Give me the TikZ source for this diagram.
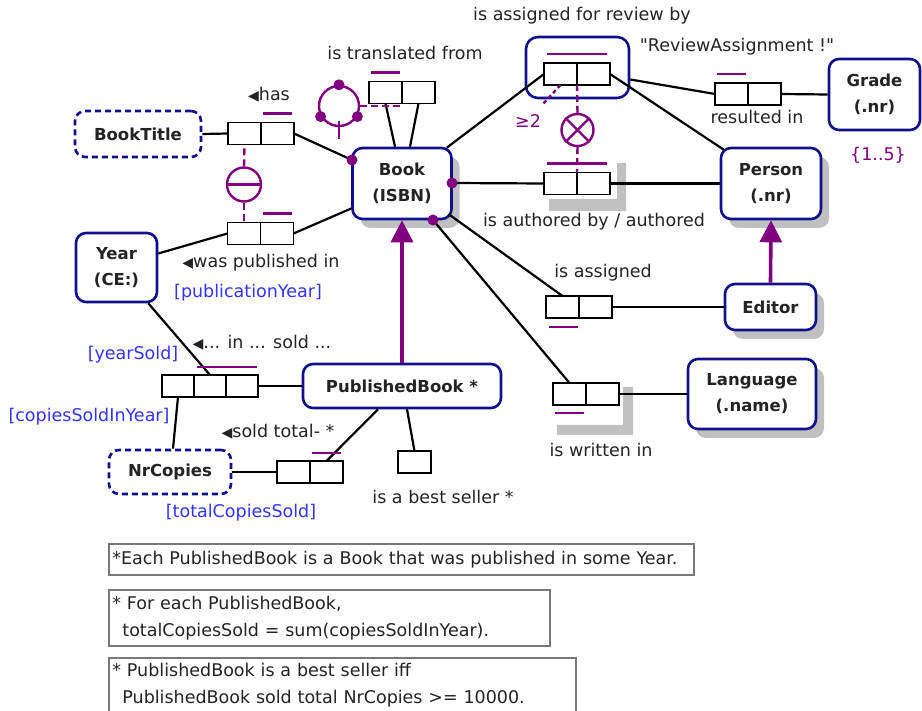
\documentclass[tikz,border=0pt]{standalone}
\usepackage{fontspec}
\setmainfont{DejaVu Sans}[Ligatures=TeXOff]
\usetikzlibrary{arrows.meta,shadows,calc}
\definecolor{navy}{RGB}{16,16,140}
\definecolor{cpurple}{RGB}{128,0,128}
\definecolor{cblue}{RGB}{51,51,255}
\definecolor{shadowgray}{RGB}{192,192,192}
\definecolor{ink}{RGB}{35,35,35}
\definecolor{notegray}{RGB}{120,120,120}
\newcommand{\lt}{{\fontsize{14}{14}\selectfont ◀}}

\begin{document}
\begin{tikzpicture}[x=1pt,y=-1pt,
  font=\fontsize{17.5}{27}\selectfont, text=ink,
  entity/.style={draw=navy, line width=2.6pt, rounded corners=10pt, fill=white, align=center,
    font=\fontsize{16.5}{26}\selectfont\bfseries, inner sep=0pt},
  refmode/.style={entity, dash pattern=on 6pt off 4pt},
  shadowed/.style={drop shadow={shadow xshift=8pt, shadow yshift=-9pt, fill=shadowgray, opacity=1}},
  role/.style={draw=black, line width=1.6pt, fill=white, minimum width=33pt, minimum height=22pt,
    inner sep=0pt, outer sep=0pt},
  conn/.style={draw=black, line width=2.2pt},
  ubar/.style={draw=cpurple, line width=2.4pt},
  cons/.style={draw=cpurple, line width=2.4pt},
  cdash/.style={draw=cpurple, line width=2.4pt, dash pattern=on 7pt off 4pt},
  ccirc/.style={circle, draw=cpurple, line width=2.4pt, fill=white, inner sep=0pt},
  mdot/.style={circle, fill=cpurple, inner sep=0pt, minimum size=11pt},
  subarrow/.style={draw=cpurple, line width=3.6pt, -{Triangle[width=22pt,length=22pt]}},
  lbl/.style={inner sep=0pt},
  rname/.style={text=cblue, inner sep=0pt},
  note/.style={draw=notegray, line width=1.8pt, anchor=north west, align=left, inner xsep=3.5pt,
    inner ysep=3pt, font=\fontsize{17.5}{27}\selectfont}
]
\useasboundingbox (0,0) rectangle (922,711);

% ---------- entity types ----------
\node[refmode, minimum width=126pt, minimum height=46pt] (BookTitle) at (138,134) {BookTitle};
\node[entity, shadowed, minimum width=99pt, minimum height=71pt] (Book) at (402,183.5) {Book\\(ISBN)};
\node[entity, minimum width=81pt, minimum height=69pt] (Year) at (116.5,267.5) {Year\\(CE:)};
\node[entity, minimum width=198pt, minimum height=44pt] (PubBook) at (402,386) {PublishedBook *};
\node[refmode, minimum width=122pt, minimum height=44pt] (NrCopies) at (170,472) {NrCopies};
\node[entity, shadowed, minimum width=100pt, minimum height=71pt] (Person) at (771,183.5) {Person\\(.nr)};
\node[entity, minimum width=91pt, minimum height=71pt] (Grade) at (874.5,94.5) {Grade\\(.nr)};
\node[entity, shadowed, minimum width=91pt, minimum height=46pt] (Editor) at (770.5,307) {Editor};
\node[entity, shadowed, minimum width=128pt, minimum height=70pt] (Language) at (752,394) {Language\\(.name)};

% objectified fact type frame
\node[draw=navy, line width=2.6pt, rounded corners=12pt, minimum width=103pt, minimum height=61pt] (Review) at (577.5,67.5) {};

% shadows of repeated fact types
\fill[shadowgray] (617,163) -- (626,163) -- (626,211) -- (549,211) -- (549,199) -- (617,199) -- cycle;
\fill[shadowgray] (623,387) -- (633,387) -- (633,435) -- (557,435) -- (557,425) -- (623,425) -- cycle;

% ---------- roles ----------
\node[role] (has1) at (244.5,133.5) {};
\node[role] (has2) at (277.5,133.5) {};
\node[role] (tr1) at (385.5,92.5) {};
\node[role] (tr2) at (418.5,92.5) {};
\node[role] (pub1) at (244,233.5) {};
\node[role] (pub2) at (277,233.5) {};
\node[role] (rv1) at (560.5,74) {};
\node[role] (rv2) at (593.5,74) {};
\node[role] (au1) at (560.5,183.5) {};
\node[role] (au2) at (593.5,183.5) {};
\node[role] (rs1) at (731.5,94) {};
\node[role] (rs2) at (764.5,94) {};
\node[role] (as1) at (562.5,307) {};
\node[role] (as2) at (595.5,307) {};
\node[role] (wr1) at (569.5,394) {};
\node[role] (wr2) at (602.5,394) {};
\node[role, minimum width=32pt] (sd1) at (178,386) {};
\node[role, minimum width=32pt] (sd2) at (210,386) {};
\node[role, minimum width=32pt] (sd3) at (242,386) {};
\node[role] (tt1) at (293.5,472) {};
\node[role] (tt2) at (326.5,472) {};
\node[role] (best) at (414.5,462) {};

% mandatory role points on Book
\coordinate (dotHas) at (352,160);
\coordinate (dotAuth) at (452,183);
\coordinate (dotWr) at (433,220);

% ---------- connectors ----------
\draw[conn] (BookTitle.east) -- (has1.west);
\draw[conn] (has2.east) -- (dotHas);
\draw[conn] ($(Year.east)+(0,-14)$) -- (pub1.west);
\draw[conn] (pub2.east) -- ($(Book.west)+(0,25)$);
\draw[conn] (tr1.south) -- ($(Book.north)+(-7,0)$);
\draw[conn] (tr2.south) -- ($(Book.north)+(8,0)$);
\draw[conn] (rv1.west) -- ($(Book.north east)+(-6,1)$);
\draw[conn] (rv2.east) -- ($(Person.north west)+(4,3)$);
\draw[conn] ($(Review.east)+(0,12)$) -- (rs1.west);
\draw[conn] (rs2.east) -- (Grade.west);
\draw[conn] (au1.west) -- (dotAuth);
\draw[conn] (au2.east) -- (Person.west);
\draw[conn] (as1.north) -- ($(Book.south east)+(-4,-6)$);
\draw[conn] (as2.east) -- (Editor.west);
\draw[conn] (wr1.north) -- (dotWr);
\draw[conn] (wr2.east) -- (Language.west);
\draw[conn] ($(Year.south east)+(-10,0)$) -- (sd2.north);
\draw[conn] (sd1.south) -- ($(NrCopies.north)+(3,0)$);
\draw[conn] (sd3.east) -- (PubBook.west);
\draw[conn] (NrCopies.east) -- (tt1.west);
\draw[conn] (tt2.north) -- ($(PubBook.south)+(-24,0)$);
\draw[conn] (best.north) -- ($(PubBook.south)+(5,0)$);

\node[mdot] at (dotHas) {};
\node[mdot] at (dotAuth) {};
\node[mdot] at (dotWr) {};

% ---------- subtyping ----------
\draw[subarrow] (PubBook.north) -- (Book.south);
\draw[subarrow] (Editor.north) -- (Person.south);

% ---------- uniqueness constraints ----------
\draw[ubar] ($(has2.north west)+(2,-9)$) -- ($(has2.north east)+(-2,-9)$);
\draw[ubar] ($(tr1.north west)+(2,-9)$) -- ($(tr1.north east)+(-2,-9)$);
\draw[ubar] ($(pub2.north west)+(2,-9)$) -- ($(pub2.north east)+(-2,-9)$);
\draw[ubar] ($(rv1.north west)+(3,-9)$) -- ($(rv2.north east)+(-3,-9)$);
\draw[ubar] ($(au1.north west)+(3,-9)$) -- ($(au2.north east)+(-3,-9)$);
\draw[ubar] ($(rs1.north west)+(2,-9)$) -- ($(rs1.north east)+(-2,-9)$);
\draw[ubar] ($(as1.south west)+(3,9)$) -- ($(as1.south east)+(-1,9)$);
\draw[ubar] ($(wr1.south west)+(2,8)$) -- ($(wr1.south east)+(-2,8)$);
\draw[ubar] ($(sd2.north west)+(3,-8)$) -- ($(sd3.north east)+(-1,-8)$);
\draw[ubar] ($(tt2.north west)+(2,-8)$) -- ($(tt2.north east)+(-2,-8)$);

% ---------- ring constraint ----------
\node[ccirc, minimum size=40pt, fill=none] (ring) at (339,106) {};
\draw[cons] ($(ring.south)+(0,-6)$) -- ++(0,18);
\node[mdot] at (ring.90) {};
\node[mdot] at (ring.210) {};
\node[mdot] at (ring.330) {};
\draw[cdash] (ring.east) -- (ring.east -| tr1.east);

% ---------- constraint between has / was published in ----------
\node[ccirc, minimum size=34pt] (eqc) at (244,184.5) {};
\draw[cons] (eqc.west) -- (eqc.east);
\draw[cdash] (eqc.north) -- (has1.south);
\draw[cdash] (eqc.south) -- (pub1.north);

% ---------- exclusion constraint ----------
\node[ccirc, minimum size=32pt] (excl) at (577.5,130) {};
\draw[cons] (excl.45) -- (excl.225);
\draw[cons] (excl.135) -- (excl.315);
\draw[cdash] (excl.north) -- (rv1.south east);
\draw[cdash] (excl.south) -- (au1.north east);

% ---------- frequency constraint ----------
\node[lbl, text=cpurple] (freq) at (528,121) {≥2};
\coordinate (freqEnd) at (543,104);
\draw[cons, dash pattern=on 4pt off 3pt] (rv1.south) -- (freqEnd);

% ---------- readings and role names ----------
\node[lbl] (tHas) at (269,95) {\lt has};
\node[lbl] (tTrans) at (405,53) {is translated from};
\node[lbl] (tReview) at (582,16) {is assigned for review by};
\node[lbl] (tRA) at (737,47) {"ReviewAssignment !"};
\node[lbl] (tRes) at (757,117) {resulted in};
\node[lbl, text=cpurple] (range) at (878,155) {\{1..5\}};
\node[lbl] (tAuth) at (594,222) {is authored by / authored};
\node[lbl] (tPub) at (261,263) {\lt was published in};
\node[rname] (rnPub) at (248,293) {[publicationYear]};
\node[lbl] (tAssigned) at (603,273) {is assigned};
\node[lbl] (tWritten) at (601,450) {is written in};
\node[lbl] (tSold) at (262,343) {\lt... in ... sold ...};
\node[rname] (rnYear) at (133,355) {[yearSold]};
\node[rname] (rnCopies) at (89,417) {[copiesSoldInYear]};
\node[lbl] (tTotal) at (278,432) {\lt sold total- *};
\node[rname] (rnTotal) at (241,513) {[totalCopiesSold]};
\node[lbl] (tBest) at (443,497) {is a best seller *};

% ---------- notes ----------
\node[note, minimum height=31pt, text width=578pt] (n1) at (108,543)
  {*Each PublishedBook is a Book that was published in some Year.};
\node[note, minimum height=56pt, text width=434pt] (n2) at (108,589)
  {* For each PublishedBook,\\\hspace*{10pt}totalCopiesSold = sum(copiesSoldInYear).};
\node[note, minimum height=54pt, text width=460pt] (n3) at (108,657)
  {* PublishedBook is a best seller iff\\\hspace*{10pt}PublishedBook sold total NrCopies >= 10000.};
\end{tikzpicture}
\end{document}
